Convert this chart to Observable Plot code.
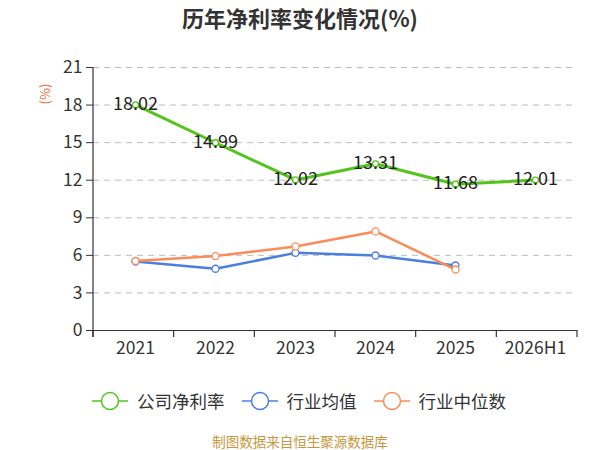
<!DOCTYPE html>
<html><head><meta charset="utf-8">
<script src="https://cdn.jsdelivr.net/npm/d3@7"></script>
<script src="https://cdn.jsdelivr.net/npm/@observablehq/plot@0.6"></script>
<style>
body{margin:0;background:#fff;font-family:"Noto Sans CJK SC","Noto Sans",sans-serif;}
#wrap{position:relative;width:600px;height:450px;overflow:hidden;}
#title{position:absolute;top:1px;left:0;width:600px;text-align:center;font-size:22px;font-weight:bold;color:#333;}
#chart{position:absolute;top:40px;left:0;}
#legend{position:absolute;top:388px;left:92px;display:flex;align-items:center;font-size:17.5px;color:#333;}
#legend .item{display:flex;align-items:center;gap:9px;margin-right:17px;}
#caption{position:absolute;top:431px;left:0;width:600px;text-align:center;font-size:13.5px;color:#c8963c;}
</style></head><body>
<div id="wrap">
<div id="title">历年净利率变化情况(%)</div>
<div id="chart"></div>
<div id="legend"></div>
<div id="caption">制图数据来自恒生聚源数据库</div>
</div>
<script>
const years = ["2021","2022","2023","2024","2025","2026H1"];
const companyNet = [18.02,14.99,12.02,13.31,11.68,12.01];
const industryAvgYears = ["2021","2022","2023","2024","2025"];
const industryAvg = [5.51,4.93,6.20,5.99,5.19];
const industryMedYears = ["2021","2022","2023","2024","2025"];
const industryMed = [5.55,5.94,6.71,7.91,4.87];
const yTicks = [0,3,6,9,12,15,18,21];
const seriesNames = ["公司净利率","行业均值","行业中位数"];
const colors = ["#52c41a","#4a7fe0","#fa8c5a"];

const comp = years.map((y,i)=>({x:y,v:companyNet[i]}));
const avg = industryAvgYears.map((y,i)=>({x:y,v:industryAvg[i]}));
const med = industryMedYears.map((y,i)=>({x:y,v:industryMed[i]}));

const plot = Plot.plot({
  width:600, height:330,
  marginLeft:93, marginRight:23, marginTop:27, marginBottom:40,
  style:{fontFamily:"'Noto Sans CJK SC','Noto Sans',sans-serif",fontSize:"17.5px",color:"#333"},
  x:{type:"band",domain:years,padding:0,label:null},
  y:{domain:[0,21],ticks:yTicks,label:null},
  marks:[
    Plot.gridY(yTicks.filter(t=>t>0),{stroke:"#bbb",strokeOpacity:1,strokeDasharray:"6,5"}),
    Plot.axisY({ticks:yTicks,tickSize:7,tickPadding:4,fontSize:17.5,fill:"#333",label:null}),
    Plot.axisX({tickSize:0,tickPadding:11,fontSize:17.5,fill:"#333",label:null}),
    Plot.ruleY([0],{stroke:"#333",strokeWidth:1.2}),
    Plot.line(avg,{x:"x",y:"v",stroke:colors[1],strokeWidth:2.5}),
    Plot.line(med,{x:"x",y:"v",stroke:colors[2],strokeWidth:2.5}),
    Plot.line(comp,{x:"x",y:"v",stroke:colors[0],strokeWidth:3}),
    Plot.dot(avg,{x:"x",y:"v",r:3.5,fill:"#fff",stroke:colors[1],strokeWidth:1.3}),
    Plot.dot(med,{x:"x",y:"v",r:3.5,fill:"#fff",stroke:colors[2],strokeWidth:1.3}),
    Plot.dot(comp,{x:"x",y:"v",r:3,fill:"#fff",stroke:colors[0],strokeWidth:1.3}),
    Plot.text(comp,{x:"x",y:"v",text:d=>d.v.toFixed(2),fontSize:18,fill:"#222",dy:-1}),
    (index, scales, values, dims) => {
      const g = d3.create("svg:g");
      const x0 = dims.marginLeft, x1 = dims.width - dims.marginRight;
      const yb = dims.height - dims.marginBottom, yt = dims.marginTop;
      g.append("line").attr("x1",x0).attr("x2",x0).attr("y1",yt).attr("y2",yb+7).attr("stroke","#333").attr("stroke-width",1.2);
      const step = (x1-x0)/years.length;
      for(let i=0;i<=years.length;i++){
        const xx = x0 + i*step;
        g.append("line").attr("x1",xx).attr("x2",xx).attr("y1",yb).attr("y2",yb+7).attr("stroke","#333").attr("stroke-width",1.2);
      }
      return g.node();
    }
  ]
});
d3.select(plot).append("text")
  .attr("transform","translate(46,54) rotate(-90)")
  .attr("text-anchor","middle").attr("dominant-baseline","middle")
  .attr("fill","#e8692e").attr("font-size",13).text("(%)");
document.getElementById("chart").appendChild(plot);

const leg = document.getElementById("legend");
seriesNames.forEach((n,i)=>{
  const it = document.createElement("div"); it.className="item";
  it.innerHTML = `<svg width="36" height="20"><line x1="0" x2="36" y1="10" y2="10" stroke="${colors[i]}" stroke-width="1.5"/><circle cx="18" cy="10" r="8.5" fill="#fff" stroke="${colors[i]}" stroke-width="1.5"/></svg><span>${n}</span>`;
  leg.appendChild(it);
});
</script>
</body></html>
